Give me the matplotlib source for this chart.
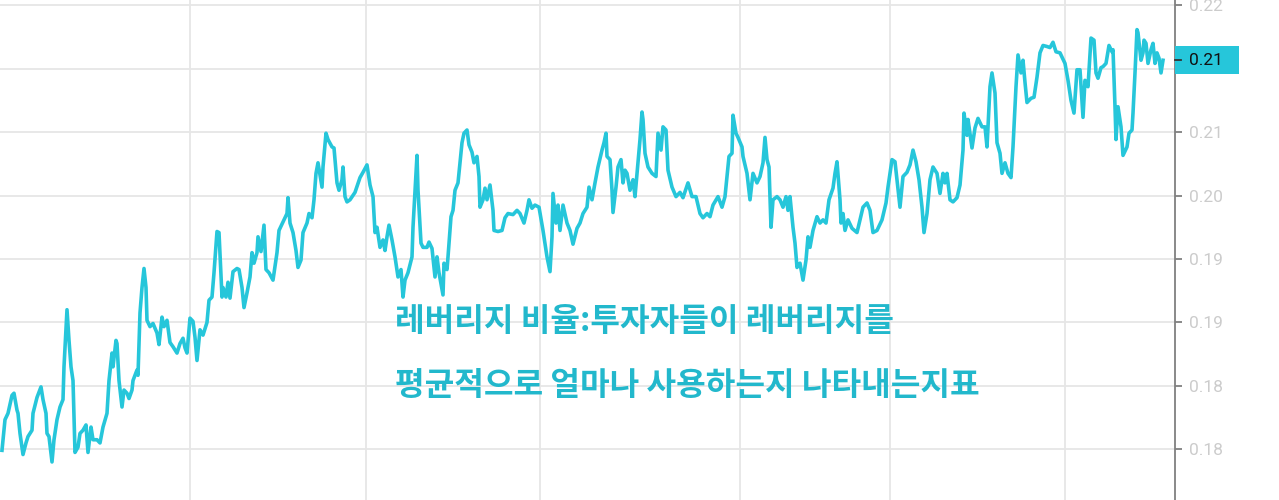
import numpy as np
import matplotlib.pyplot as plt
from matplotlib.transforms import blended_transform_factory
from matplotlib.patches import Rectangle

# leverage ratio
day = [0, 3, 6, 10, 12, 15, 16, 18, 21, 24, 26, 30, 31, 35, 39, 41, 44, 45, 47, 50,
       52, 55, 58, 61, 62, 65, 67, 69, 71, 73, 76, 78, 81, 84, 86, 89, 91, 95, 98, 101,
       105, 107, 110, 111, 114, 115, 117, 120, 122, 125, 127, 130, 131, 135, 136, 138, 140, 142, 144, 145,
       148, 151, 155, 157, 160, 162, 165, 168, 171, 175, 178, 181, 183, 185, 188, 191, 193, 195, 198, 201,
       205, 207, 210, 212, 215, 217, 220, 221, 224, 226, 228, 231, 235, 237, 240, 242, 245, 248, 250, 252,
       255, 256, 259, 262, 264, 267, 271, 275, 277, 281, 285, 286, 288, 291, 294, 296, 299, 301, 305, 307,
       310, 312, 314, 316, 320, 321, 324, 326, 330, 332, 335, 337, 340, 341, 343, 345, 348, 353, 358, 361,
       365, 368, 371, 373, 375, 378, 381, 383, 385, 387, 390, 393, 396, 399, 401, 403, 406, 410, 411, 415,
       416, 419, 421, 425, 427, 430, 433, 435, 437, 441, 442, 445, 446, 449, 451, 453, 456, 460, 462, 465,
       467, 470, 472, 475, 477, 478, 481, 483, 485, 488, 491, 492, 496, 500, 503, 506, 511, 515, 518, 522,
       525, 527, 530, 533, 537, 541, 545, 548, 550, 551, 554, 556, 558, 561, 565, 568, 571, 575, 578, 581,
       585, 587, 590, 593, 596, 600, 602, 604, 605, 608, 610, 611, 614, 616, 619, 621, 623, 625, 628, 631,
       633, 636, 638, 640, 641, 643, 646, 650, 654, 656, 659, 661, 664, 666, 670, 674, 678, 681, 686, 690,
       694, 698, 701, 705, 708, 711, 716, 720, 723, 725, 727, 730, 731, 734, 736, 740, 741, 745, 748, 751,
       755, 758, 761, 763, 765, 767, 769, 771, 775, 778, 781, 784, 786, 788, 791, 793, 795, 798, 801, 804,
       806, 808, 811, 815, 818, 821, 824, 827, 831, 833, 835, 838, 839, 841, 843, 846, 850, 855, 858, 861,
       865, 868, 871, 875, 880, 884, 886, 890, 893, 895, 898, 901, 905, 908, 911, 914, 917, 920, 922, 925,
       928, 931, 935, 938, 941, 943, 945, 948, 951, 955, 958, 961, 962, 965, 966, 970, 973, 976, 980, 983,
       985, 988, 990, 993, 995, 998, 1000, 1003, 1006, 1009, 1011, 1014, 1016, 1019, 1021, 1023, 1025, 1029, 1032, 1035,
       1038, 1041, 1045, 1048, 1051, 1054, 1058, 1063, 1066, 1069, 1072, 1075, 1078, 1081, 1083, 1086, 1089, 1092, 1094, 1096,
       1099, 1101, 1104, 1107, 1110, 1111, 1113, 1114, 1116, 1119, 1121, 1125, 1127, 1130, 1131, 1133, 1135, 1136, 1139, 1141,
       1142, 1144, 1146, 1149, 1151, 1153, 1155, 1157, 1159, 1161]
ratio = [0.1759, 0.1788, 0.1794, 0.1811, 0.1813, 0.1797, 0.1794, 0.1775, 0.1755, 0.1766,
         0.1772, 0.1778, 0.1794, 0.1809, 0.1819, 0.1807, 0.1794, 0.1775, 0.1772, 0.1748,
         0.1769, 0.1788, 0.1800, 0.1807, 0.1838, 0.1892, 0.1863, 0.1838, 0.1825, 0.1757,
         0.1762, 0.1775, 0.1778, 0.1783, 0.1757, 0.1781, 0.1769, 0.1769, 0.1766, 0.1781,
         0.1794, 0.1825, 0.1851, 0.1838, 0.1863, 0.1860, 0.1825, 0.1800, 0.1816, 0.1813,
         0.1808, 0.1816, 0.1825, 0.1835, 0.1830, 0.1889, 0.1913, 0.1931, 0.1913, 0.1882,
         0.1876, 0.1879, 0.1870, 0.1859, 0.1885, 0.1876, 0.1882, 0.1861, 0.1857, 0.1851,
         0.1860, 0.1865, 0.1856, 0.1851, 0.1884, 0.1881, 0.1866, 0.1844, 0.1873, 0.1868,
         0.1880, 0.1901, 0.1904, 0.1927, 0.1966, 0.1965, 0.1904, 0.1913, 0.1904, 0.1918,
         0.1903, 0.1928, 0.1931, 0.1930, 0.1913, 0.1894, 0.1908, 0.1923, 0.1946, 0.1936,
         0.1946, 0.1961, 0.1947, 0.1972, 0.1930, 0.1927, 0.1920, 0.1946, 0.1967, 0.1975,
         0.1983, 0.1998, 0.1974, 0.1965, 0.1948, 0.1932, 0.1939, 0.1965, 0.1974, 0.1983,
         0.1979, 0.1996, 0.2021, 0.2031, 0.2008, 0.2027, 0.2059, 0.2053, 0.2046, 0.2045,
         0.2012, 0.2005, 0.2015, 0.2027, 0.1999, 0.1994, 0.1996, 0.2003, 0.2017, 0.2022,
         0.2029, 0.2010, 0.1999, 0.1965, 0.1970, 0.1951, 0.1958, 0.1948, 0.1961, 0.1972,
         0.1958, 0.1942, 0.1923, 0.1930, 0.1904, 0.1920, 0.1927, 0.1942, 0.1970, 0.2038,
         0.2005, 0.1955, 0.1951, 0.1951, 0.1956, 0.1950, 0.1923, 0.1942, 0.1927, 0.1906,
         0.1936, 0.1930, 0.1942, 0.1980, 0.1986, 0.2005, 0.2012, 0.2050, 0.2059, 0.2062,
         0.2048, 0.2041, 0.2031, 0.2037, 0.2018, 0.1989, 0.1996, 0.2007, 0.1996, 0.2010,
         0.1986, 0.1967, 0.1966, 0.1967, 0.1979, 0.1983, 0.1982, 0.1986, 0.1983, 0.1974,
         0.1986, 0.1996, 0.1988, 0.1991, 0.1989, 0.1967, 0.1942, 0.1928, 0.1961, 0.2002,
         0.1974, 0.1991, 0.1967, 0.1991, 0.1974, 0.1967, 0.1954, 0.1969, 0.1974, 0.1983,
         0.1989, 0.2008, 0.1996, 0.2012, 0.2027, 0.2043, 0.2050, 0.2059, 0.2037, 0.2034,
         0.2005, 0.1984, 0.2008, 0.2027, 0.2034, 0.2012, 0.2024, 0.2021, 0.2005, 0.2015,
         0.1999, 0.2031, 0.2053, 0.2079, 0.2072, 0.2040, 0.2027, 0.2021, 0.2018, 0.2059,
         0.2043, 0.2065, 0.2062, 0.2024, 0.2008, 0.1999, 0.2003, 0.1998, 0.2012, 0.1999,
         0.1999, 0.1983, 0.1979, 0.1983, 0.1980, 0.1991, 0.1999, 0.1989, 0.1999, 0.2018,
         0.2037, 0.2040, 0.2076, 0.2059, 0.2055, 0.2046, 0.2037, 0.2021, 0.1996, 0.2021,
         0.2012, 0.2018, 0.2031, 0.2055, 0.2034, 0.2027, 0.1970, 0.1996, 0.1999, 0.1996,
         0.1989, 0.1999, 0.1986, 0.1999, 0.1970, 0.1955, 0.1932, 0.1936, 0.1920, 0.1939,
         0.1961, 0.1951, 0.1967, 0.1980, 0.1974, 0.1977, 0.1974, 0.1996, 0.2007, 0.2021,
         0.2032, 0.1996, 0.1974, 0.1983, 0.1967, 0.1977, 0.1969, 0.1965, 0.1977, 0.1989,
         0.1993, 0.1986, 0.1965, 0.1967, 0.1977, 0.1993, 0.2008, 0.2034, 0.2032, 0.2015,
         0.1989, 0.2018, 0.2022, 0.2029, 0.2043, 0.2032, 0.2015, 0.1989, 0.1965, 0.1983,
         0.2015, 0.2027, 0.2021, 0.2002, 0.2021, 0.2012, 0.2021, 0.1996, 0.1994, 0.1998,
         0.2010, 0.2043, 0.2078, 0.2057, 0.2072, 0.2045, 0.2064, 0.2073, 0.2065, 0.2065,
         0.2046, 0.2103, 0.2116, 0.2097, 0.2050, 0.2040, 0.2021, 0.2031, 0.2021, 0.2017,
         0.2046, 0.2103, 0.2133, 0.2116, 0.2128, 0.2107, 0.2088, 0.2092, 0.2093, 0.2112,
         0.2135, 0.2142, 0.2141, 0.2140, 0.2145, 0.2136, 0.2135, 0.2125, 0.2109, 0.2090,
         0.2078, 0.2119, 0.2119, 0.2074, 0.2109, 0.2103, 0.2149, 0.2147, 0.2116, 0.2111,
         0.2121, 0.2122, 0.2125, 0.2142, 0.2136, 0.2138, 0.2084, 0.2053, 0.2084, 0.2065,
         0.2038, 0.2046, 0.2059, 0.2062, 0.2078, 0.2116, 0.2157, 0.2154, 0.2128, 0.2135,
         0.2147, 0.2144, 0.2125, 0.2138, 0.2144, 0.2125, 0.2135, 0.2130, 0.2116, 0.2128]

y_ticks = [0.176, 0.182, 0.188, 0.194, 0.200, 0.206, 0.212, 0.218]
x_grid = [188, 364, 538, 738, 888, 1063]
caption = ['레버리지 비율:투자자들이 레버리지를', '평균적으로 얼마나 사용하는지 나타내는지표']

line_color = '#26c6da'

fig = plt.figure(figsize=(12.79, 5.0), dpi=100)
ax = fig.add_axes([0, 0, 1175 / 1279, 1])

ax.plot(day, ratio, color=line_color, lw=2.6, solid_joinstyle='round', zorder=3)
ax.set_xlim(-2, 1173)
ax.set_ylim(0.1712, 0.2185)

ax.set_xticks(x_grid)
ax.set_yticks(y_ticks)
last = ratio[-1]


def tick_fmt(v, pos):
    # the label under the last-value box is covered, so leave it out
    if abs(v - last) < 0.0015:
        return ''
    return '%.2f' % v


ax.yaxis.set_major_formatter(plt.FuncFormatter(tick_fmt))
ax.yaxis.tick_right()
ax.grid(color='#e6e6e6', lw=1.3)

for s in ['top', 'left', 'bottom']:
    ax.spines[s].set_visible(False)
ax.spines['right'].set_color('#808080')
ax.spines['right'].set_linewidth(1.3)

ax.tick_params(axis='x', length=0, labelbottom=False)
ax.tick_params(axis='y', direction='out', length=5, width=1.3, color='#808080',
               labelcolor='#cccccc', labelsize=12.5, pad=5)
for lbl in ax.get_yticklabels():
    lbl.set_fontfamily('Roboto')

# last value marker on the right axis
tr = blended_transform_factory(ax.transAxes, ax.transData)
ax.add_patch(Rectangle((1.0, last - 0.00133), 64 / 1175, 0.00266, transform=tr,
                       facecolor=line_color, edgecolor='none', clip_on=False, zorder=6))
ax.plot([1.0, 1.0 + 6 / 1175], [last, last], transform=tr, color='#333333', lw=1.3,
        clip_on=False, zorder=7)
ax.text(1.0 + 14 / 1175, last, '%.2f' % last, transform=tr, va='center', ha='left',
        fontsize=12.5, family='Roboto', color='#111111', zorder=8)

for i, line in enumerate(caption):
    ax.text(395 / 1175, [0.356, 0.228][i], line, transform=ax.transAxes,
            va='center', ha='left', fontsize=23.2, fontweight='bold',
            family=['Noto Sans CJK KR', 'DejaVu Sans'], color='#22b8cc', zorder=5)

plt.savefig('out.png', dpi=100)
